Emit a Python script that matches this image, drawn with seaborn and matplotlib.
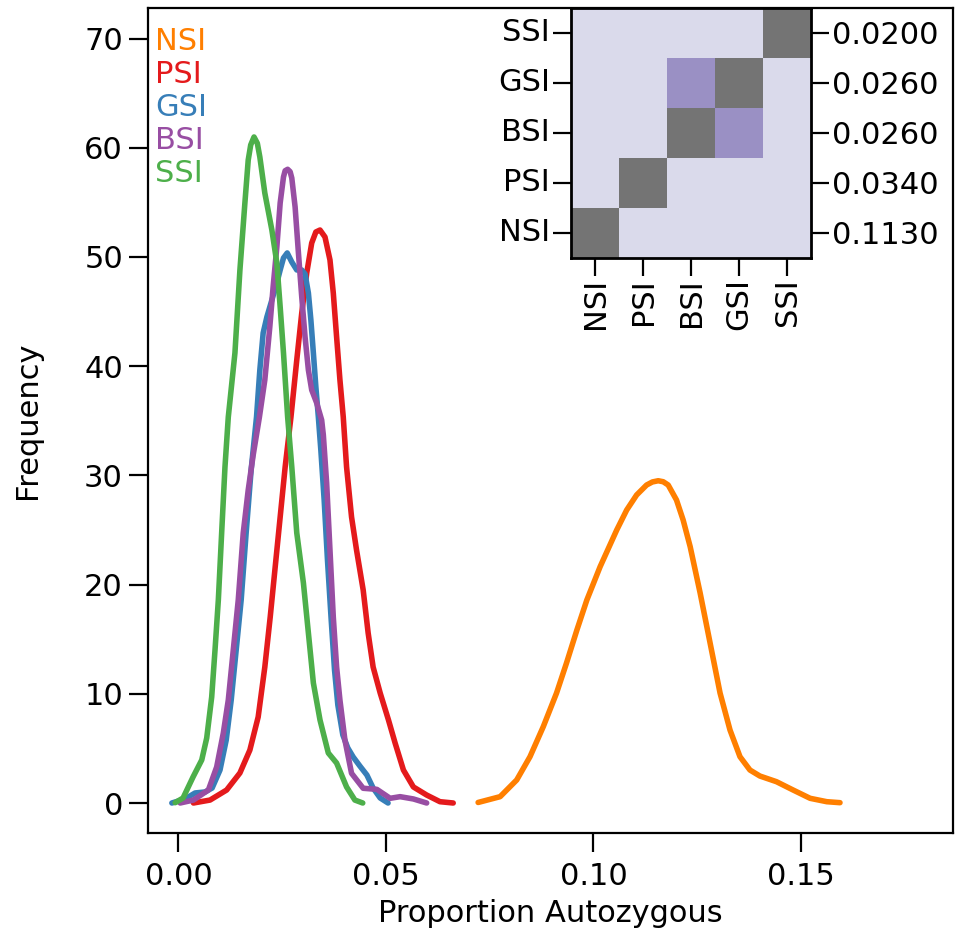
import numpy as np
import pandas as pd
import matplotlib
matplotlib.use("Agg")
import matplotlib.pyplot as plt
from matplotlib.colors import ListedColormap
import seaborn as sns

# ---- density curves (Proportion Autozygous vs Frequency) ----
nsi_x = [0.0722, 0.0775, 0.0815, 0.0847, 0.0879, 0.0911, 0.0935, 0.0960, 0.0984, 0.1016,
         0.1056, 0.1080, 0.1104, 0.1128, 0.1142, 0.1156, 0.1168, 0.1180, 0.1200, 0.1216,
         0.1233, 0.1257, 0.1281, 0.1305, 0.1329, 0.1353, 0.1377, 0.1401, 0.1441, 0.1481,
         0.1522, 0.1562, 0.1594]
nsi_y = [0.05, 0.58, 2.11, 4.24, 6.99, 10.07, 12.82, 15.84, 18.59, 21.64,
         25.00, 26.83, 28.21, 29.12, 29.40, 29.51, 29.42, 29.12, 27.75, 25.92,
         23.47, 19.23, 14.65, 10.07, 6.68, 4.24, 3.02, 2.47, 1.95, 1.19,
         0.43, 0.12, 0.03]

psi_x = [0.0036, 0.0076, 0.0116, 0.0148, 0.0172, 0.0192, 0.0208, 0.0221, 0.0233, 0.0245,
         0.0257, 0.0271, 0.0285, 0.0297, 0.0309, 0.0321, 0.0331, 0.0341, 0.0353, 0.0365,
         0.0373, 0.0381, 0.0389, 0.0397, 0.0405, 0.0417, 0.0429, 0.0445, 0.0457, 0.0469,
         0.0486, 0.0506, 0.0522, 0.0542, 0.0566, 0.0598, 0.0630, 0.0662]
psi_y = [0.00, 0.27, 1.19, 2.75, 4.85, 7.88, 12.45, 17.03, 21.61, 26.19,
         30.77, 35.35, 40.57, 44.87, 48.53, 51.28, 52.29, 52.47, 51.83, 49.73,
         46.70, 42.67, 38.74, 35.35, 30.77, 26.19, 23.17, 19.51, 15.57, 12.45,
         10.07, 7.60, 5.49, 3.02, 1.47, 0.73, 0.12, 0.00]

gsi_x = [-0.0016, 0.0016, 0.0040, 0.0064, 0.0081, 0.0100, 0.0115, 0.0127, 0.0139, 0.0151,
         0.0163, 0.0175, 0.0188, 0.0196, 0.0204, 0.0213, 0.0225, 0.0237, 0.0245, 0.0253,
         0.0262, 0.0273, 0.0285, 0.0297, 0.0305, 0.0313, 0.0319, 0.0325, 0.0331, 0.0337,
         0.0343, 0.0351, 0.0359, 0.0368, 0.0376, 0.0384, 0.0396, 0.0408, 0.0421, 0.0437,
         0.0454, 0.0469, 0.0486, 0.0505]
gsi_y = [0.00, 0.37, 0.92, 1.01, 1.37, 3.02, 5.77, 9.43, 14.01, 18.59,
         24.73, 30.49, 35.35, 39.65, 43.04, 44.51, 46.06, 47.62, 48.81, 49.91,
         50.37, 49.54, 48.81, 48.81, 48.44, 46.70, 44.23, 41.21, 38.10, 35.35,
         32.33, 27.75, 22.25, 16.76, 12.18, 8.97, 6.23, 5.04, 4.21, 3.39,
         2.56, 1.37, 0.46, 0.00]

bsi_x = [0.0004, 0.0036, 0.0072, 0.0092, 0.0108, 0.0120, 0.0132, 0.0144, 0.0156, 0.0168,
         0.0180, 0.0195, 0.0208, 0.0220, 0.0228, 0.0237, 0.0245, 0.0253, 0.0257, 0.0263,
         0.0269, 0.0273, 0.0281, 0.0289, 0.0297, 0.0305, 0.0313, 0.0321, 0.0333, 0.0345,
         0.0349, 0.0357, 0.0365, 0.0373, 0.0381, 0.0389, 0.0401, 0.0417, 0.0445, 0.0478,
         0.0510, 0.0534, 0.0566, 0.0598]
bsi_y = [0.00, 0.27, 1.19, 3.30, 6.41, 9.43, 14.01, 18.59, 24.73, 28.66,
         31.87, 35.35, 38.74, 43.59, 47.25, 50.92, 54.95, 57.33, 57.90, 58.03,
         57.81, 57.23, 54.58, 50.37, 46.34, 42.67, 39.65, 37.82, 36.63, 35.07,
         33.70, 29.30, 23.17, 17.03, 12.45, 9.43, 5.77, 2.72, 1.35, 1.25,
         0.43, 0.58, 0.37, 0.00]

ssi_x = [-0.0008, 0.0011, 0.0035, 0.0056, 0.0068, 0.0080, 0.0088, 0.0096, 0.0104, 0.0112,
         0.0120, 0.0136, 0.0148, 0.0160, 0.0168, 0.0174, 0.0182, 0.0190, 0.0196, 0.0208,
         0.0225, 0.0237, 0.0245, 0.0253, 0.0263, 0.0273, 0.0285, 0.0301, 0.0313, 0.0325,
         0.0341, 0.0361, 0.0381, 0.0405, 0.0425, 0.0444]
ssi_y = [0.03, 0.46, 2.38, 3.94, 5.95, 9.71, 14.01, 18.59, 24.73, 30.77,
         35.35, 41.21, 48.81, 54.95, 58.88, 60.26, 60.99, 60.41, 59.16, 55.86,
         52.47, 49.45, 45.42, 41.21, 35.35, 30.77, 24.73, 20.15, 15.57, 10.99,
         7.60, 4.58, 3.66, 1.47, 0.27, 0.00]

groups = ["NSI", "PSI", "GSI", "BSI", "SSI"]
colors = ["#ff7f00", "#e41a1c", "#377eb8", "#984ea3", "#4daf4a"]
curves = {"NSI": (nsi_x, nsi_y), "PSI": (psi_x, psi_y), "GSI": (gsi_x, gsi_y),
          "BSI": (bsi_x, bsi_y), "SSI": (ssi_x, ssi_y)}

# ---- pairwise comparison matrix for the inset ----
inset_order = ["NSI", "PSI", "BSI", "GSI", "SSI"]
medians = [0.1130, 0.0340, 0.0260, 0.0260, 0.0200]
not_different = [("BSI", "GSI")]   # pairs without a significant difference

sns.set_style("ticks")
plt.rcParams["font.family"] = ["DejaVu Sans"]
plt.rcParams["font.size"] = 22
for key in ["text.color", "axes.labelcolor", "xtick.color", "ytick.color", "axes.edgecolor"]:
    plt.rcParams[key] = "black"

frames = [pd.DataFrame({"x": curves[g][0], "y": curves[g][1], "group": g}) for g in groups]
df = pd.concat(frames, ignore_index=True)

fig = plt.figure(figsize=(9.55, 9.36), dpi=100)
ax = fig.add_axes([0.15497, 0.11004, 0.84293, 0.88141])

sns.lineplot(data=df, x="x", y="y", hue="group", hue_order=groups,
             palette=dict(zip(groups, colors)), estimator=None, sort=False,
             linewidth=4, legend=False, ax=ax)
for line in ax.get_lines():
    line.set_solid_capstyle("round")
    line.set_solid_joinstyle("round")

ax.set_xlim(-0.00735, 0.18663)
ax.set_ylim(-2.747, 72.80)
ax.set_xticks([0.00, 0.05, 0.10, 0.15])
ax.set_xticklabels(["0.00", "0.05", "0.10", "0.15"])
ax.set_yticks(np.arange(0, 71, 10))
for s in ax.spines.values():
    s.set_visible(True)
    s.set_linewidth(1.6)
    s.set_color("black")
ax.tick_params(axis="both", length=14, width=1.6, labelsize=22, direction="out",
               color="black", labelcolor="black")
ax.tick_params(axis="x", pad=7)
ax.tick_params(axis="y", pad=4)
ax.set_xlabel("Proportion Autozygous", fontsize=22, color="black")
ax.set_ylabel("Frequency", fontsize=22, color="black")
ax.xaxis.set_label_coords(0.5, -0.08)
ax.yaxis.set_label_coords(-0.1317, 0.5)

for i, (g, c) in enumerate(zip(groups, colors)):
    ax.text(0.0087, 0.9491 - 0.04 * i, g, color=c, fontsize=22,
            transform=ax.transAxes, ha="left", va="baseline")

# ---- inset heatmap ----
n = len(inset_order)
status = np.zeros((n, n))
for i in range(n):
    status[i, i] = 2
for a, b in not_different:
    ia, ib = inset_order.index(a), inset_order.index(b)
    status[ia, ib] = 1
    status[ib, ia] = 1
status_df = pd.DataFrame(status[::-1], index=inset_order[::-1], columns=inset_order)

ins = fig.add_axes([0.59791, 0.72489, 0.25131, 0.26656])
cmap = ListedColormap(["#dadaeb", "#9a90c4", "#747474"])
sns.heatmap(status_df, ax=ins, cmap=cmap, vmin=-0.5, vmax=2.5, cbar=False,
            square=False, linewidths=0)
ins.set_xticklabels(inset_order, rotation=90)
ins.set_yticklabels(inset_order[::-1], rotation=0)
ins.set_xlabel("")
ins.set_ylabel("")
for s in ins.spines.values():
    s.set_visible(True)
    s.set_linewidth(2)
    s.set_color("black")
ins.tick_params(axis="both", length=13, width=1.6, labelsize=22, pad=2,
                left=True, bottom=True, color="black", labelcolor="black")

ax2 = ins.twinx()
ax2.set_ylim(ins.get_ylim())
ax2.set_yticks(ins.get_yticks())
ax2.set_yticklabels([f"{m:.4f}" for m in medians[::-1]])
for s in ax2.spines.values():
    s.set_visible(False)
ax2.tick_params(axis="y", length=13, width=1.6, labelsize=22, pad=2,
                color="black", labelcolor="black")

fig.savefig("out.png", dpi=100)
